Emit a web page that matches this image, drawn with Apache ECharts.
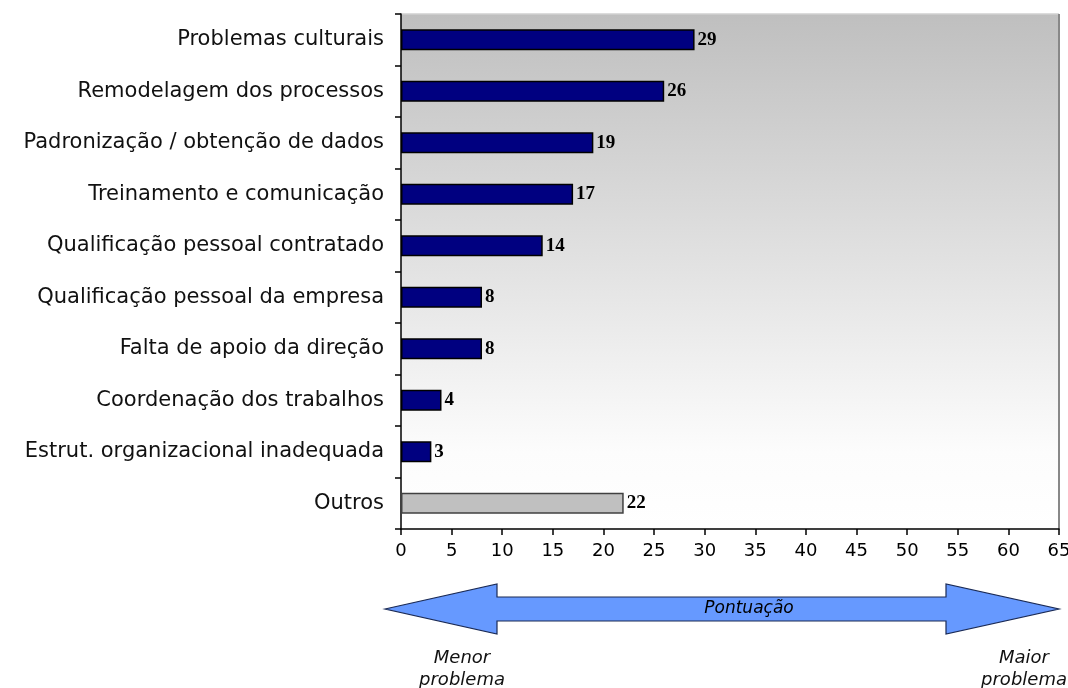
<!DOCTYPE html>
<html>
<head>
<meta charset="utf-8">
<script src="https://cdn.jsdelivr.net/npm/echarts@6/dist/echarts.min.js"></script>
<style>
  html, body { margin: 0; padding: 0; background: #fff; }
  #chart { width: 1068px; height: 688px; }
</style>
</head>
<body>
<div id="chart"></div>
<script>
// categorias e pontuação
const categorias = [
  'Problemas culturais',
  'Remodelagem dos processos',
  'Padronização / obtenção de dados',
  'Treinamento e comunicação',
  'Qualificação pessoal contratado',
  'Qualificação pessoal da empresa',
  'Falta de apoio da direção',
  'Coordenação dos trabalhos',
  'Estrut. organizacional inadequada',
  'Outros'
];
const pontos = [29, 26, 19, 17, 14, 8, 8, 4, 3, 22];
const destaque = 'Outros'; // barra cinza

let myChart = echarts.init(document.getElementById('chart'));

const gLeft = 401, gRight = 9, gTop = 14, gBottom = 159;

myChart.setOption({
  animation: false,
  grid: {
    left: gLeft, right: gRight, top: gTop, bottom: gBottom,
    containLabel: false,
    outerBoundsMode: 'none',
    show: true,
    borderWidth: 0,
    backgroundColor: new echarts.graphic.LinearGradient(0, 0, 0, 1, [
      { offset: 0, color: '#bfbfbf' },
      { offset: 0.85, color: '#fcfcfc' },
      { offset: 1, color: '#ffffff' }
    ])
  },
  xAxis: {
    type: 'value',
    min: 0, max: 65, interval: 5,
    axisLine: { show: true, lineStyle: { color: '#000', width: 1.5 } },
    axisTick: { show: true, length: 6, lineStyle: { color: '#000', width: 1.5 } },
    axisLabel: { color: '#000', fontFamily: 'DejaVu Sans', fontSize: 18, margin: 13 },
    splitLine: { show: false }
  },
  yAxis: {
    type: 'category',
    data: categorias,
    inverse: true,
    axisLine: { show: true, lineStyle: { color: '#000', width: 1.5 } },
    axisTick: { show: true, length: 6, lineStyle: { color: '#000', width: 1.5 } },
    axisLabel: { color: '#111', fontFamily: 'DejaVu Sans', fontSize: 21, margin: 17 }
  },
  series: [{
    type: 'bar',
    barWidth: 21,
    data: pontos.map((v, i) => ({
      value: v,
      itemStyle: categorias[i] === destaque
        ? { color: '#c0c0c0', borderColor: '#404040', borderWidth: 1.5 }
        : { color: '#000080', borderColor: '#000', borderWidth: 1.5 }
    })),
    label: {
      show: true, position: 'right', distance: 3,
      color: '#000', fontFamily: 'Liberation Serif', fontWeight: 'bold', fontSize: 19
    }
  }],
  graphic: [
    // bordas da área do gráfico
    { type: 'line', shape: { x1: gLeft, y1: gTop, x2: 1059, y2: gTop }, style: { stroke: '#d0d0d0', lineWidth: 1.5 } },
    { type: 'line', shape: { x1: 1059, y1: gTop, x2: 1059, y2: 529 }, style: { stroke: '#888', lineWidth: 2 } },
    // seta de pontuação
    {
      type: 'polygon',
      shape: { points: [
        [385, 609], [497, 584], [497, 597], [946, 597], [946, 584],
        [1059, 609], [946, 634], [946, 621], [497, 621], [497, 634]
      ] },
      style: { fill: '#6699ff', stroke: '#1a2a55', lineWidth: 1.2 }
    },
    { type: 'text', x: 749, y: 609, style: { text: 'Pontuação', fill: '#000', font: 'italic 17px "DejaVu Sans"', align: 'center', verticalAlign: 'middle' } },
    { type: 'text', x: 462, y: 669, style: { text: 'Menor\nproblema', fill: '#111', font: 'italic 18px "DejaVu Sans"', lineHeight: 22, align: 'center', verticalAlign: 'middle' } },
    { type: 'text', x: 1024, y: 669, style: { text: 'Maior\nproblema', fill: '#111', font: 'italic 18px "DejaVu Sans"', lineHeight: 22, align: 'center', verticalAlign: 'middle' } }
  ]
});
</script>
</body>
</html>
